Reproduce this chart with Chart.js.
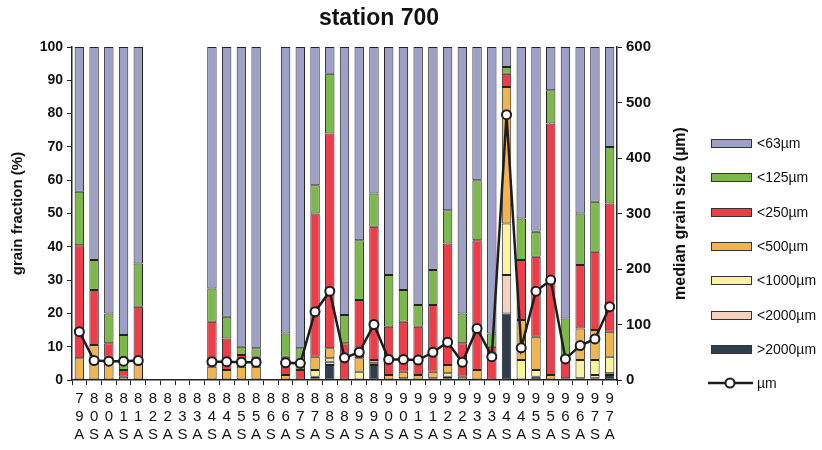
<!DOCTYPE html>
<html>
<head>
<meta charset="utf-8">
<script src="https://cdn.jsdelivr.net/npm/chart.js@4.4.1/dist/chart.umd.min.js"></script>
<style>
  body { margin: 0; background: #fff; }
  canvas { display: block; }
</style>
</head>
<body>
<canvas id="grainChart" width="822" height="450"></canvas>
<script>
// sampling campaigns: year + S (spring) / A (autumn)
const campaigns = ['79A', '80S', '80A', '81S', '81A', '82S', '82A', '83S', '83A', '84S', '84A', '85S', '85A',
                   '86S', '86A', '87S', '87A', '88S', '88A', '89S', '89A', '90S', '90A', '91S', '91A', '92S',
                   '92A', '93S', '93A', '94S', '94A', '95S', '95A', '96S', '96A', '97S', '97A'];

// grain fractions in % (null = not sampled)
const gt2000 = [0, 0, 0, 0, 0, null, null, null, null, 0, 0, 0, 0, null, 0, 0, 0.5, 4.5, 0, 0, 4.5, 0, 0, 0, 0, 0.5,
                0, 0, 0, 20, 0, 1, 0, 0, 0, 0.5, 1.5];
const lt2000 = [0, 0, 0, 0, 0, null, null, null, null, 0, 0, 0, 0, null, 0, 0, 0.5, 1, 0, 0, 0, 0, 0, 0, 0, 0.5,
                0, 0, 0, 11.5, 0, 0, 0, 0, 0.5, 1, 0.5];
const lt1000 = [0, 0, 0, 0, 0, null, null, null, null, 0, 0, 0, 0, null, 0, 0, 2, 1, 0, 2.5, 0.5, 0, 0.5, 0, 0.5, 1,
                0, 0, 0, 15.5, 6, 2, 0, 0, 5.5, 4.5, 5];
const lt500 = [6.5, 10.5, 7, 1, 6, null, null, null, null, 4, 3, 4, 4, null, 1.5, 0, 4, 3, 0, 4, 1, 1.5, 2, 1.5, 2, 2.5,
               1, 3, 0, 41, 12, 10, 1.5, 0.5, 9.5, 9, 7.5];
const lt250 = [34, 16.5, 4, 2, 16, null, null, null, null, 13.5, 9.5, 3.5, 3, null, 5.5, 3, 43, 64.5, 11, 17.5, 40,
               14.5, 15, 14.5, 20, 36.5, 10, 39, 10, 4, 18, 24, 75.5, 5.5, 19, 23.5, 38.5];
const lt125 = [16, 9, 9, 10.5, 13, null, null, null, null, 10, 6.5, 2.5, 2.5, null, 7, 6.5, 8.5, 18, 8.5, 18, 10,
               15.5, 9.5, 6.5, 10.5, 10, 9, 18, 4, 2, 12.5, 7.5, 10, 12.5, 15.5, 15, 17];
const lt63 = [43.5, 64, 80, 86.5, 65, null, null, null, null, 72.5, 81, 90, 90.5, null, 86, 90.5, 41.5, 8, 80.5, 58,
              44, 68.5, 73, 77.5, 67, 49, 80, 40, 86, 6, 51.5, 55.5, 13, 81.5, 50, 46.5, 30];

// median grain size in µm
const medianSize = [87, 35, 34, 34, 35, null, null, null, null, 33, 33, 32, 32, null, 31, 30, 123, 160, 40, 50, 100,
                    37, 37, 36, 50, 68, 32, 93, 42, 478, 58, 160, 180, 38, 62, 74, 132];

const leftTicks = [0, 10, 20, 30, 40, 50, 60, 70, 80, 90, 100];
const rightTicks = [0, 100, 200, 300, 400, 500, 600];

const font = '"Liberation Sans", Arial, sans-serif';

// bottom of the stack first
const fractions = [
    { label: '>2000µm', data: gt2000, color: '#2f3d4c' },
    { label: '<2000µm', data: lt2000, color: '#f6d3bf' },
    { label: '<1000µm', data: lt1000, color: '#f8f39c' },
    { label: '<500µm',  data: lt500,  color: '#f1b44e' },
    { label: '<250µm',  data: lt250,  color: '#ee3d47' },
    { label: '<125µm',  data: lt125,  color: '#7cb84b' },
    { label: '<63µm',   data: lt63,   color: '#9ea0c6' }
];

const barSets = fractions.map(f => ({
    type: 'bar',
    label: f.label,
    data: f.data.map(v => (v ? v : null)),
    backgroundColor: f.color,
    borderColor: '#222',
    borderWidth: 1,
    borderSkipped: false,
    barPercentage: 0.64,
    categoryPercentage: 1,
    yAxisID: 'y',
    order: 1
}));

const lineSet = {
    type: 'line',
    label: 'µm',
    data: medianSize,
    yAxisID: 'y2',
    borderColor: '#1d1d1d',
    borderWidth: 2.5,
    pointRadius: 4.5,
    pointBorderWidth: 2,
    pointBackgroundColor: '#fff',
    pointBorderColor: '#1d1d1d',
    spanGaps: false,
    tension: 0,
    order: 0
};

// title, right axis title and the legend block
const extras = {
    id: 'extras',
    afterDraw(chart) {
        const ctx = chart.ctx;
        const area = chart.chartArea;
        ctx.save();
        ctx.fillStyle = '#111';
        ctx.textBaseline = 'middle';

        ctx.textAlign = 'center';
        ctx.font = 'bold 23px ' + font;
        ctx.fillText('station 700', 379, 19);

        ctx.save();
        ctx.translate(681, (area.top + area.bottom) / 2);
        ctx.rotate(-Math.PI / 2);
        ctx.font = 'bold 16px ' + font;
        ctx.fillText('median grain size (µm)', 0, 0);
        ctx.restore();

        ctx.textAlign = 'left';
        ctx.font = '14px ' + font;
        const items = fractions.slice().reverse();
        const y0 = 143, step = 34.3;
        items.forEach((f, i) => {
            const y = Math.round(y0 + i * step);
            ctx.fillStyle = f.color;
            ctx.fillRect(711, y - 4, 41, 9);
            ctx.strokeStyle = '#333';
            ctx.lineWidth = 1;
            ctx.strokeRect(711.5, y - 3.5, 40, 8);
            ctx.fillStyle = '#111';
            ctx.fillText(f.label, 757, y + 1);
        });
        const yl = Math.round(y0 + items.length * step);
        ctx.strokeStyle = '#1d1d1d';
        ctx.lineWidth = 2.5;
        ctx.beginPath();
        ctx.moveTo(708, yl);
        ctx.lineTo(753, yl);
        ctx.stroke();
        ctx.beginPath();
        ctx.arc(730, yl, 4.5, 0, Math.PI * 2);
        ctx.fillStyle = '#fff';
        ctx.fill();
        ctx.lineWidth = 2;
        ctx.stroke();
        ctx.fillStyle = '#111';
        ctx.fillText('µm', 757, yl + 1);
        ctx.restore();
    }
};

new Chart(document.getElementById('grainChart'), {
    data: {
        labels: campaigns.map(c => c.split('')),
        datasets: [...barSets, lineSet]
    },
    options: {
        responsive: false,
        animation: false,
        layout: { padding: { top: 47, right: 127, bottom: 0, left: 0 } },
        plugins: {
            legend: { display: false },
            title: { display: false },
            tooltip: { enabled: false }
        },
        scales: {
            x: {
                stacked: true,
                offset: true,
                grid: { drawOnChartArea: false, color: '#222', tickLength: 5, offset: true },
                border: { color: '#222', width: 1.5 },
                ticks: {
                    autoSkip: false,
                    maxRotation: 0,
                    padding: 5,
                    color: '#111',
                    font: { family: font, size: 15, lineHeight: 1.2 }
                },
                afterFit: s => { s.height = 70; }
            },
            y: {
                stacked: true,
                position: 'left',
                min: 0,
                max: 100,
                afterBuildTicks: s => { s.ticks = leftTicks.map(v => ({ value: v })); },
                grid: { drawOnChartArea: false, color: '#222', tickLength: 5 },
                border: { color: '#222', width: 1.5 },
                ticks: { color: '#111', padding: 4, font: { family: font, size: 14, weight: 'bold' } },
                title: {
                    display: true,
                    text: 'grain fraction (%)',
                    color: '#111',
                    padding: { top: 9, bottom: 0 },
                    font: { family: font, size: 15, weight: 'bold' }
                },
                afterFit: s => { s.width = 72; }
            },
            y2: {
                position: 'right',
                min: 0,
                max: 600,
                afterBuildTicks: s => { s.ticks = rightTicks.map(v => ({ value: v })); },
                grid: { drawOnChartArea: false, color: '#222', tickLength: 5 },
                border: { color: '#222', width: 1.5 },
                ticks: { color: '#111', padding: 4, font: { family: font, size: 15, weight: 'bold' } },
                afterFit: s => { s.width = 78; }
            }
        }
    },
    plugins: [extras]
});
</script>
</body>
</html>
